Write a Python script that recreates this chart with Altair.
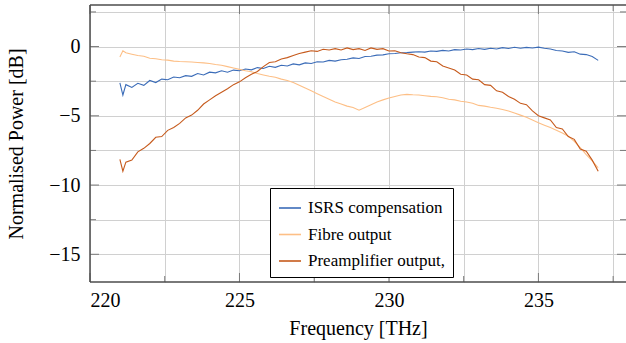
import altair as alt
import pandas as pd

freq = [221.0, 221.1, 221.2, 221.4, 221.6, 221.8, 222.0, 222.2, 222.4, 222.6, 222.8,
        223.0, 223.2, 223.4, 223.6, 223.8, 224.0, 224.2, 224.4, 224.6, 224.8,
        225.0, 225.2, 225.4, 225.6, 225.8, 226.0, 226.2, 226.4, 226.6, 226.8,
        227.0, 227.2, 227.4, 227.6, 227.8, 228.0, 228.2, 228.4, 228.6, 228.8,
        229.0, 229.2, 229.4, 229.6, 229.8, 230.0, 230.2, 230.4, 230.6, 230.8,
        231.0, 231.2, 231.4, 231.6, 231.8, 232.0, 232.2, 232.4, 232.6, 232.8,
        233.0, 233.2, 233.4, 233.6, 233.8, 234.0, 234.2, 234.4, 234.6, 234.8,
        235.0, 235.2, 235.4, 235.6, 235.8, 236.0, 236.2, 236.4, 236.6, 236.8,
        237.0]

isrs = [-2.63, -3.50, -2.75, -2.95, -2.65, -2.80, -2.45, -2.60, -2.35, -2.40, -2.20,
        -2.25, -2.10, -2.15, -1.95, -2.05, -1.85, -1.90, -1.75, -1.85, -1.70,
        -1.75, -1.62, -1.68, -1.52, -1.58, -1.42, -1.50, -1.35, -1.40, -1.25,
        -1.32, -1.18, -1.22, -1.10, -1.12, -1.00, -1.05, -0.95, -0.92, -0.82,
        -0.86, -0.72, -0.70, -0.62, -0.60, -0.52, -0.50, -0.45, -0.44, -0.40,
        -0.38, -0.40, -0.32, -0.35, -0.28, -0.32, -0.22, -0.25, -0.18, -0.22,
        -0.14, -0.20, -0.12, -0.18, -0.08, -0.14, -0.05, -0.12, -0.06, -0.10,
        -0.04, -0.12, -0.18, -0.28, -0.32, -0.42, -0.38, -0.55, -0.58, -0.72,
        -1.00]

fibre = [-0.75, -0.30, -0.45, -0.55, -0.65, -0.70, -0.85, -0.88, -0.95, -0.98, -1.05,
         -1.08, -1.10, -1.12, -1.15, -1.18, -1.22, -1.30, -1.35, -1.45, -1.55,
         -1.65, -1.75, -1.82, -1.95, -2.05, -2.15, -2.22, -2.35, -2.45, -2.60,
         -2.80, -3.00, -3.20, -3.40, -3.60, -3.80, -4.00, -4.15, -4.30, -4.40,
         -4.60, -4.40, -4.20, -4.00, -3.85, -3.72, -3.60, -3.50, -3.45, -3.48,
         -3.50, -3.55, -3.60, -3.62, -3.70, -3.80, -3.85, -3.95, -4.00, -4.10,
         -4.25, -4.30, -4.38, -4.45, -4.55, -4.65, -4.80, -4.95, -5.10, -5.30,
         -5.50, -5.68, -5.85, -6.05, -6.25, -6.47, -6.85, -7.30, -7.80, -8.25,
         -8.75]

preamp = [-8.15, -9.00, -8.35, -8.20, -7.60, -7.35, -7.00, -6.55, -6.50, -6.05, -5.85,
          -5.55, -5.15, -4.95, -4.60, -4.15, -3.85, -3.55, -3.30, -3.05, -2.75,
          -2.55, -2.25, -2.00, -1.80, -1.45, -1.15, -1.10, -0.90, -0.80, -0.65,
          -0.50, -0.40, -0.30, -0.35, -0.20, -0.25, -0.15, -0.25, -0.10, -0.22,
          -0.15, -0.28, -0.10, -0.20, -0.15, -0.32, -0.30, -0.45, -0.52, -0.58,
          -0.75, -0.80, -1.05, -1.10, -1.40, -1.55, -1.70, -2.00, -2.05, -2.35,
          -2.40, -2.75, -2.80, -3.20, -3.30, -3.60, -3.80, -4.10, -4.20, -4.65,
          -5.00, -5.15, -5.30, -5.85, -5.95, -6.50, -6.70, -7.40, -7.55, -8.20,
          -9.00]

series_names = ["ISRS compensation", "Fibre output", "Preamplifier output,"]
series_colors = ["#3b6cb8", "#fdbf86", "#c65a1c"]

x_major = [220, 225, 230, 235]
x_minor = [222.5, 227.5, 232.5, 237.5]
y_major = [0, -5, -10, -15]
y_minor = [2.5, -2.5, -7.5, -12.5]

rows = []
for name, vals in zip(series_names, [isrs, fibre, preamp]):
    for f, v in zip(freq, vals):
        rows.append({"freq": f, "power": v, "series": name})
df = pd.DataFrame(rows)

FONT = "Liberation Serif"
W, H = 536, 277
XDOM = [220, 237.93]
YDOM = [-17, 3]
TICK = "#7a7a7a"
FRAME = "#4d4d4d"

xs = alt.Scale(domain=XDOM, nice=False, zero=False)
ys = alt.Scale(domain=YDOM, nice=False, zero=False)

x_axis = alt.Axis(title="Frequency [THz]", values=x_major + x_minor,
                  labelExpr="datum.value % 5 == 0 ? datum.label : ''",
                  format="d", tickSize=0, labelPadding=8,
                  titlePadding=8, domain=False)
y_axis = alt.Axis(title="Normalised Power [dB]", values=y_major + y_minor,
                  labelExpr="datum.value % 5 == 0 ? datum.label : ''",
                  format="d", tickSize=0, labelPadding=10,
                  titlePadding=22, domain=False)

lines = alt.Chart(df).mark_line(strokeWidth=1.1).encode(
    x=alt.X("freq:Q", scale=xs, axis=x_axis),
    y=alt.Y("power:Q", scale=ys, axis=y_axis),
    color=alt.Color("series:N",
                    scale=alt.Scale(domain=series_names, range=series_colors),
                    legend=alt.Legend(title=None, orient="none", legendX=180, legendY=183,
                                      direction="vertical", fillColor="white",
                                      strokeColor="black", padding=8,
                                      symbolType="stroke", symbolStrokeWidth=1.6,
                                      symbolSize=484, rowPadding=6.5, labelOffset=6,
                                      labelFont=FONT, labelFontSize=17,
                                      labelColor="black", cornerRadius=0)),
    detail="series:N",
    order="freq:Q",
)

def xticks(vals, length):
    d = pd.DataFrame({"freq": vals})
    bottom = alt.Chart(d).mark_rule(color=TICK, strokeWidth=1).encode(
        x=alt.X("freq:Q", scale=xs, axis=x_axis),
        y=alt.value(H), y2=alt.value(H - length))
    top = alt.Chart(d).mark_rule(color=TICK, strokeWidth=1).encode(
        x=alt.X("freq:Q", scale=xs, axis=x_axis),
        y=alt.value(0), y2=alt.value(length))
    return [bottom, top]

def yticks(vals, length):
    d = pd.DataFrame({"power": vals})
    left = alt.Chart(d).mark_rule(color=TICK, strokeWidth=1).encode(
        y=alt.Y("power:Q", scale=ys, axis=y_axis),
        x=alt.value(0), x2=alt.value(length))
    right = alt.Chart(d).mark_rule(color=TICK, strokeWidth=1).encode(
        y=alt.Y("power:Q", scale=ys, axis=y_axis),
        x=alt.value(W), x2=alt.value(W - length))
    return [left, right]

one = pd.DataFrame({"k": [0]})
frame_top = alt.Chart(one).mark_rule(color=FRAME, strokeWidth=1.5).encode(
    x=alt.value(0), x2=alt.value(W), y=alt.value(0))
frame_bottom = alt.Chart(one).mark_rule(color=FRAME, strokeWidth=1.5).encode(
    x=alt.value(0), x2=alt.value(W), y=alt.value(H))
frame_left = alt.Chart(one).mark_rule(color=FRAME, strokeWidth=1.5).encode(
    x=alt.value(0), y=alt.value(0), y2=alt.value(H))

layers = ([lines] + xticks(x_major, 9) + xticks(x_minor, 6)
          + yticks(y_major, 9) + yticks(y_minor, 6)
          + [frame_top, frame_bottom, frame_left])

chart = alt.layer(*layers).properties(
    width=W, height=H,
    autosize=alt.AutoSizeParams(type="none"),
    padding={"left": 90, "top": 5, "right": 0, "bottom": 61},
    background="white",
).configure_view(
    stroke=None, fill="white"
).configure_axis(
    gridColor="#d0d0d0", gridWidth=1, gridOpacity=1,
    labelFont=FONT, labelFontSize=20, labelColor="black",
    titleFont=FONT, titleFontSize=20, titleFontWeight="normal", titleColor="black",
).configure_legend(
    labelFont=FONT, labelFontSize=17, labelColor="black"
)

chart.save("out.html", embed_options={"renderer": "svg", "actions": False})
